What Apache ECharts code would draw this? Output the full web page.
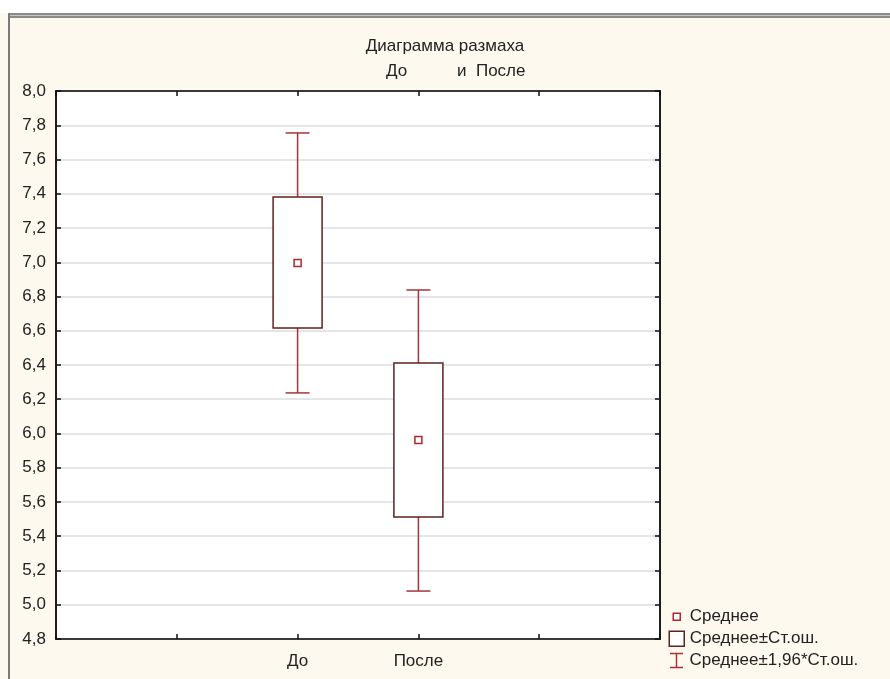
<!DOCTYPE html>
<html><head><meta charset="utf-8">
<script src="https://cdn.jsdelivr.net/npm/echarts@6/dist/echarts.min.js"></script>
<style>html,body{margin:0;padding:0;background:#fff}#c{width:890px;height:679px}</style>
</head><body><div id="c"></div>
<script>
// x slots (category axis, boundaryGap false)
const xSlots = ['', '', 'До', 'После', '', ''];
const groups = ['До', 'После'];
const means   = [6.996, 5.962];
const seLow   = [6.616, 5.512];
const seHigh  = [7.381, 6.412];
const ciLow   = [6.237, 5.080];
const ciHigh  = [7.755, 6.838];
const yTicks = { min: 4.8, max: 8.0, interval: 0.2 };
const legendNames = ['Среднее', 'Среднее±Ст.ош.', 'Среднее±1,96*Ст.ош.'];
const titleLine1 = 'Диаграмма размаха';
const titleLine2a = 'До';
const titleLine2b = 'и  После';

const FONT = 'Arial, "Liberation Sans", sans-serif';
const FS = 17;
const WHISK = '#a8343a';
const BOXC = '#5e2222';
const MEANC = '#b0262c';

const rows = groups.map((g, i) => [g, means[i], seLow[i], seHigh[i], ciLow[i], ciHigh[i]]);

function whiskerItem(params, api) {
  const lo = api.coord([api.value(0), api.value(4)]);
  const hi = api.coord([api.value(0), api.value(5)]);
  const cap = 12;
  return { type: 'group', children: [
    { type: 'line', shape: { x1: lo[0], y1: lo[1], x2: hi[0], y2: hi[1] }, style: { stroke: WHISK, lineWidth: 1.5 } },
    { type: 'line', shape: { x1: lo[0]-cap, y1: lo[1], x2: lo[0]+cap, y2: lo[1] }, style: { stroke: WHISK, lineWidth: 1.5 } },
    { type: 'line', shape: { x1: hi[0]-cap, y1: hi[1], x2: hi[0]+cap, y2: hi[1] }, style: { stroke: WHISK, lineWidth: 1.5 } }
  ]};
}
function boxItem(params, api) {
  const lo = api.coord([api.value(0), api.value(2)]);
  const hi = api.coord([api.value(0), api.value(3)]);
  const w = 49;
  return { type: 'rect', shape: { x: lo[0]-w/2, y: hi[1], width: w, height: lo[1]-hi[1] },
    style: { fill: '#fff', stroke: BOXC, lineWidth: 1.5 } };
}
function meanItem(params, api) {
  const p = api.coord([api.value(0), api.value(1)]);
  const s = 7;
  return { type: 'rect', shape: { x: p[0]-s/2, y: p[1]-s/2, width: s, height: s },
    style: { fill: '#fff', stroke: MEANC, lineWidth: 1.5 } };
}

const chart = echarts.init(document.getElementById('c'), null, { renderer: 'canvas' });
const tickStyle = { show: true, inside: true, length: 5, lineStyle: { color: '#111', width: 1.5 } };
const lineStyle = { show: true, lineStyle: { color: '#111', width: 1.5 } };
const tStyle = { fontFamily: FONT, fontSize: FS, fontWeight: 'normal', color: '#222' };
const legendItems = [
  { name: legendNames[0], icon: 'path://M0 0 M16 16 M4.5 4.5 H11.5 V11.5 H4.5 Z',
    itemStyle: { color: '#fff', borderColor: MEANC, borderWidth: 1.5 } },
  { name: legendNames[1], icon: 'path://M0 0 M16 16 M0.5 0.5 H15.5 V15.5 H0.5 Z',
    itemStyle: { color: '#fff', borderColor: BOXC, borderWidth: 1.5 } },
  { name: legendNames[2], icon: 'path://M0 0 M16 16 M1.5 1 H14.5 M8 1 V15 M1.5 15 H14.5',
    itemStyle: { color: 'none', borderColor: WHISK, borderWidth: 1.5 } }
];
const legendTops = [608, 630, 650];
const legendLefts = [668, 668, 666];
chart.setOption({
  backgroundColor: '#fef9ee',
  animation: false,
  graphic: [
    { type: 'rect', shape: { x: 0, y: 0, width: 890, height: 13 }, style: { fill: '#fff' }, z: -1 },
    { type: 'rect', shape: { x: 8, y: 13, width: 882, height: 5 }, style: { fill: '#8a8a8a' }, z: 1 },
    { type: 'rect', shape: { x: 8, y: 15, width: 882, height: 1 }, style: { fill: '#c4c4c4' }, z: 1 },
    { type: 'rect', shape: { x: 8, y: 13, width: 2, height: 666 }, style: { fill: '#7a7a7a' }, z: 1 }
  ],
  title: [
    { text: titleLine1, left: 'center', top: 38, padding: 0, textStyle: tStyle },
    { text: titleLine2a, left: 386, top: 63, padding: 0, textStyle: tStyle },
    { text: titleLine2b, left: 457, top: 63, padding: 0, textStyle: tStyle }
  ],
  legend: legendItems.map((it, i) => ({
    orient: 'vertical', left: legendLefts[i], top: legendTops[i], padding: 0, itemWidth: 16, itemHeight: 16,
    selectedMode: false,
    textStyle: { fontFamily: FONT, fontSize: FS, color: '#222' },
    data: [it]
  })),
  grid: { left: 56, right: 230, top: 91, bottom: 40, show: true, backgroundColor: '#fff', borderColor: '#111', borderWidth: 1.5 },
  xAxis: [
    { type: 'category', data: xSlots, boundaryGap: false, position: 'bottom',
      axisLine: lineStyle, axisTick: Object.assign({ interval: 0 }, tickStyle),
      axisLabel: { interval: 0, margin: 14, fontFamily: FONT, fontSize: FS, color: '#222' },
      splitLine: { show: false } },
    { type: 'category', data: xSlots, boundaryGap: false, position: 'top',
      axisLine: lineStyle, axisTick: Object.assign({ interval: 0 }, tickStyle),
      axisLabel: { show: false }, splitLine: { show: false } }
  ],
  yAxis: [
    { type: 'value', min: yTicks.min, max: yTicks.max, interval: yTicks.interval, position: 'left',
      axisLine: lineStyle, axisTick: tickStyle,
      axisLabel: { margin: 10, fontFamily: FONT, fontSize: FS, color: '#222',
        formatter: v => v.toFixed(1).replace('.', ',') },
      splitLine: { show: true, lineStyle: { color: '#dcdcdc', width: 1.5 } } },
    { type: 'value', min: yTicks.min, max: yTicks.max, interval: yTicks.interval, position: 'right',
      axisLine: lineStyle, axisTick: tickStyle,
      axisLabel: { show: false }, splitLine: { show: false } }
  ],
  series: [
    { type: 'custom', name: legendNames[2], renderItem: whiskerItem, data: rows, encode: { x: 0, y: [4, 5] }, z: 2 },
    { type: 'custom', name: legendNames[1], renderItem: boxItem, data: rows, encode: { x: 0, y: [2, 3] }, z: 3 },
    { type: 'custom', name: legendNames[0], renderItem: meanItem, data: rows, encode: { x: 0, y: 1 }, z: 4 }
  ]
});
</script></body></html>
